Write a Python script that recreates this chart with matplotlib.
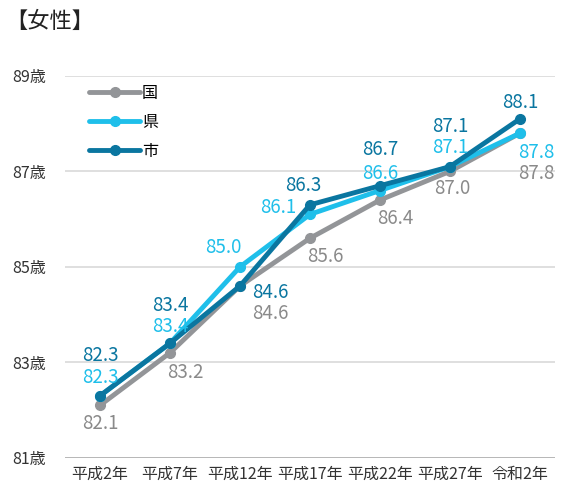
import matplotlib
matplotlib.use("Agg")
import matplotlib.pyplot as plt

plt.rcParams['font.family'] = ['Noto Sans CJK JP', 'DejaVu Sans']

categories = ['平成2年', '平成7年', '平成12年', '平成17年', '平成22年', '平成27年', '令和2年']
kuni = [82.1, 83.2, 84.6, 85.6, 86.4, 87.0, 87.8]
ken = [82.3, 83.4, 85.0, 86.1, 86.6, 87.1, 87.8]
shi = [82.3, 83.4, 84.6, 86.3, 86.7, 87.1, 88.1]
yticks = [81, 83, 85, 87, 89]

c_kuni = '#939598'
c_ken = '#1fbfea'
c_shi = '#0a76a0'
t_kuni = '#8a8a8a'

# label offsets in points (dx, dy) per point
off_kuni = [(0, -13), (11, -14), (22, -20), (11, -13), (11, -13), (2, -12), (12, -29)]
off_ken = [(0, 13), (0, 12), (-12, 14), (-23, 5), (0, 12), (0, 14), (12, -14)]
off_shi = [(0, 29), (0, 27), (22, -5), (-5, 14), (0, 26), (0, 29), (0, 12)]

fig = plt.figure(figsize=(5.61, 4.87), dpi=100)
ax = fig.add_axes([0.116, 0.06, 0.873, 0.784])

x = range(len(categories))
series = [('国', kuni, c_kuni, t_kuni, off_kuni),
          ('県', ken, c_ken, c_ken, off_ken),
          ('市', shi, c_shi, c_shi, off_shi)]
for name, vals, col, tcol, offs in series:
    ax.plot(x, vals, color=col, lw=3.5, marker='o', ms=7, label=name,
            solid_capstyle='round')
    for i, v in enumerate(vals):
        ax.annotate(f'{v:.1f}', (i, v), xytext=offs[i], textcoords='offset points',
                    ha='center', va='center', fontsize=13.5, color=tcol)

ax.set_xlim(-0.5, len(categories) - 0.5)
ax.set_ylim(81, 89)
ax.set_yticks(yticks)
ax.set_yticklabels([f'{t}歳' for t in yticks], fontsize=11.5, color='#333333')
ax.set_xticks(list(x))
ax.set_xticklabels(categories, fontsize=11.5, color='#333333')
ax.tick_params(length=0)
ax.tick_params(axis='y', pad=14)
ax.tick_params(axis='x', pad=6)
for s in ax.spines.values():
    s.set_visible(False)
for t in yticks:
    ax.axhline(t, color='#aaaaaa' if t == 81 else '#d9d9d9', lw=1.2, zorder=0)

ax.legend(loc='upper left', bbox_to_anchor=(0.02, 1.015), frameon=False,
          fontsize=11.5, handlelength=3.2, handletextpad=0.1, labelspacing=0.75)

fig.text(0.01, 0.955, '【女性】', fontsize=16, color='#222222', va='center')

fig.savefig('out.png', dpi=100)
